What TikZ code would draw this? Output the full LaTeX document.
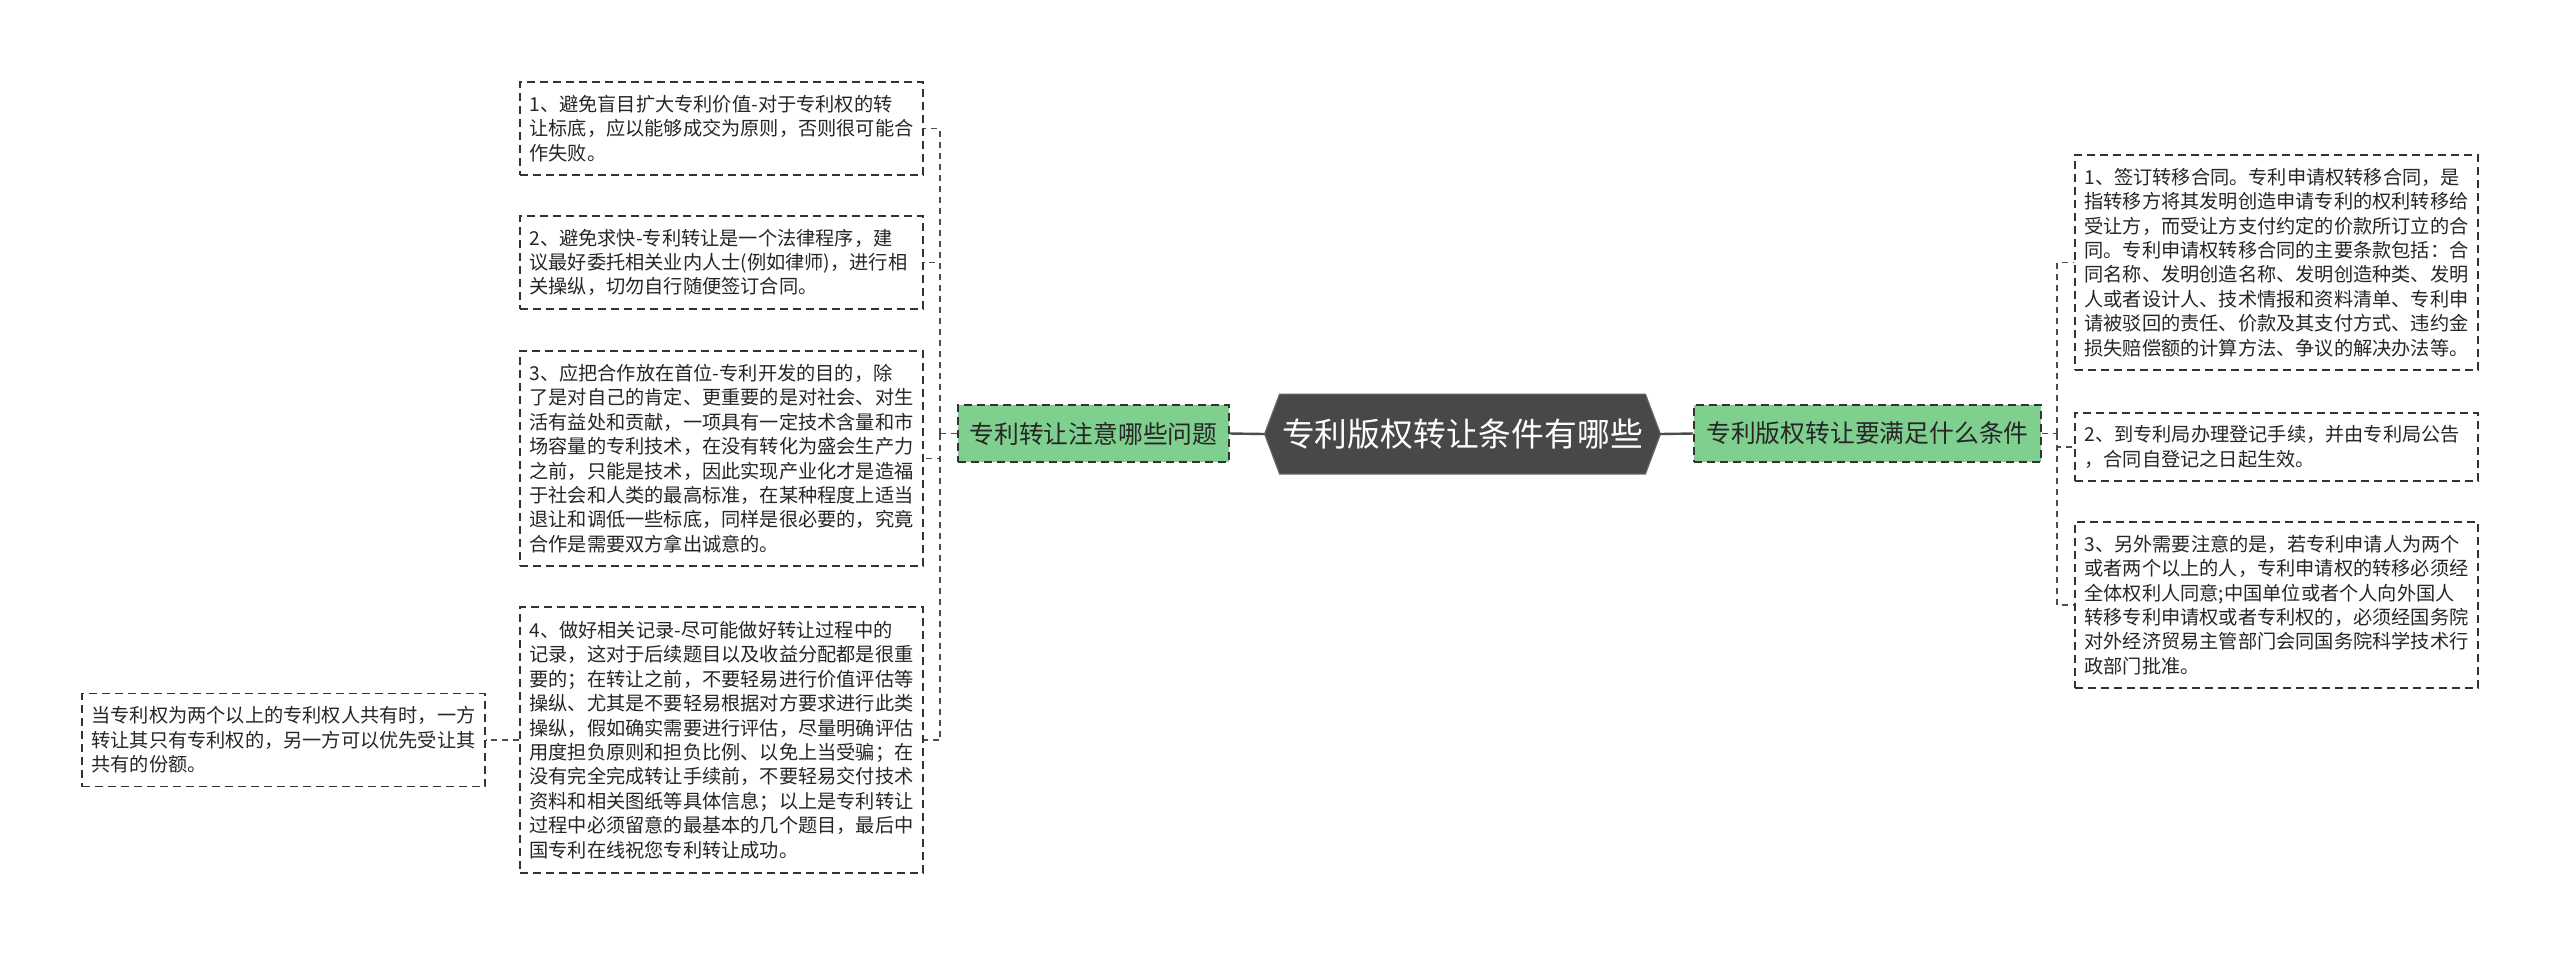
\documentclass[tikz,border=0pt]{standalone}
\usepackage{fontspec}
\newfontfamily\cjk{Noto Sans CJK SC}
\usetikzlibrary{backgrounds}
\definecolor{txt}{HTML}{262626}
\definecolor{bord}{HTML}{333333}
\definecolor{grn}{HTML}{7FCF8F}
\definecolor{darkhex}{HTML}{4A4747}
\definecolor{ln}{HTML}{4D4D4D}
\begin{document}
\begin{tikzpicture}[x=0.5pt,y=-0.5pt,
  leaf/.style={rectangle, draw=bord, dash pattern=on 4pt off 2.5pt, line width=0.8pt,
    text width=192pt, inner xsep=4.75pt, inner ysep=0pt, align=left,
    font=\cjk\fontsize{9.6}{12.2}\selectfont, text=txt, anchor=center},
  grnbox/.style={rectangle, draw=bord, fill=grn, dash pattern=on 4pt off 2.5pt, line width=0.8pt,
    inner sep=0pt, align=center, font=\cjk\fontsize{12.4}{14}\selectfont, text=txt},
  hexnode/.style={rectangle, inner sep=0pt, minimum width=182.5pt, minimum height=39.5pt,
    font=\cjk\fontsize{16.4}{18}\selectfont, text=white},
  conn/.style={draw=ln, line width=0.7pt, dash pattern=on 3pt off 2.5pt},
  solidln/.style={draw=ln, line width=1.2pt}
]
\useasboundingbox (0,0) rectangle (2560,955);

\node[hexnode] (c) at (1462.5,434) {专利版权转让条件有哪些};
\node[grnbox, minimum width=135.5pt, minimum height=28.5pt] (lg) at (1093.5,433.5) {专利转让注意哪些问题};
\node[grnbox, minimum width=173.5pt, minimum height=28.5pt] (rg) at (1867.5,433.5) {专利版权转让要满足什么条件};

\node[leaf, minimum height=46.5pt] (l1) at (721.5,128.5) {1、避免盲目扩大专利价值-对于专利权的转\\让标底，应以能够成交为原则，否则很可能合\\作失败。};
\node[leaf, minimum height=46.5pt] (l2) at (721.5,262.5) {2、避免求快-专利转让是一个法律程序，建\\议最好委托相关业内人士(例如律师)，进行相\\关操纵，切勿自行随便签订合同。};
\node[leaf, minimum height=107.5pt] (l3) at (721.5,458.5) {3、应把合作放在首位-专利开发的目的，除\\了是对自己的肯定、更重要的是对社会、对生\\活有益处和贡献，一项具有一定技术含量和市\\场容量的专利技术，在没有转化为盛会生产力\\之前，只能是技术，因此实现产业化才是造福\\于社会和人类的最高标准，在某种程度上适当\\退让和调低一些标底，同样是很必要的，究竟\\合作是需要双方拿出诚意的。};
\node[leaf, minimum height=133pt] (l4) at (721.5,740) {4、做好相关记录-尽可能做好转让过程中的\\记录，这对于后续题目以及收益分配都是很重\\要的；在转让之前，不要轻易进行价值评估等\\操纵、尤其是不要轻易根据对方要求进行此类\\操纵，假如确实需要进行评估，尽量明确评估\\用度担负原则和担负比例、以免上当受骗；在\\没有完全完成转让手续前，不要轻易交付技术\\资料和相关图纸等具体信息；以上是专利转让\\过程中必须留意的最基本的几个题目，最后中\\国专利在线祝您专利转让成功。};
\node[leaf, minimum height=46.5pt] (l5) at (283.5,740) {当专利权为两个以上的专利权人共有时，一方\\转让其只有专利权的，另一方可以优先受让其\\共有的份额。};

\node[leaf, minimum height=107.5pt] (r1) at (2276.5,262.5) {1、签订转移合同。专利申请权转移合同，是\\指转移方将其发明创造申请专利的权利转移给\\受让方，而受让方支付约定的价款所订立的合\\同。专利申请权转移合同的主要条款包括：合\\同名称、发明创造名称、发明创造种类、发明\\人或者设计人、技术情报和资料清单、专利申\\请被驳回的责任、价款及其支付方式、违约金\\损失赔偿额的计算方法、争议的解决办法等。};
\node[leaf, minimum height=34pt] (r2) at (2276.5,447) {2、到专利局办理登记手续，并由专利局公告\\，合同自登记之日起生效。};
\node[leaf, minimum height=83pt] (r3) at (2276.5,605) {3、另外需要注意的是，若专利申请人为两个\\或者两个以上的人，专利申请权的转移必须经\\全体权利人同意;中国单位或者个人向外国人\\转移专利申请权或者专利权的，必须经国务院\\对外经济贸易主管部门会同国务院科学技术行\\政部门批准。};

\begin{scope}[on background layer]
\fill[white] (0,0) rectangle (2560,955);
\filldraw[fill=darkhex, draw=darkhex!85!white, line width=0.6pt]
  (c.north west) -- (c.north east) -- ([xshift=7.5pt]c.east) -- (c.south east)
  -- (c.south west) -- ([xshift=-7.5pt]c.west) -- cycle;
\end{scope}

\coordinate (cl) at ([xshift=-7.5pt]c.west);
\coordinate (cr) at ([xshift=7.5pt]c.east);
\draw[solidln] (lg.east) -- (cl);
\draw[solidln] (cr) -- (rg.west);

\coordinate (lm) at (940,433.5);
\coordinate (rm) at (2057,433.5);
\draw[conn] (lg.west) -- (lm);
\foreach \n in {l1,l2,l3,l4} \draw[conn] (lm) |- (\n.east);
\draw[conn] (rg.east) -- (rm);
\foreach \n in {r1,r2,r3} \draw[conn] (rm) |- (\n.west);
\draw[conn] (l4.west) -- (l5.east);
\end{tikzpicture}
\end{document}
